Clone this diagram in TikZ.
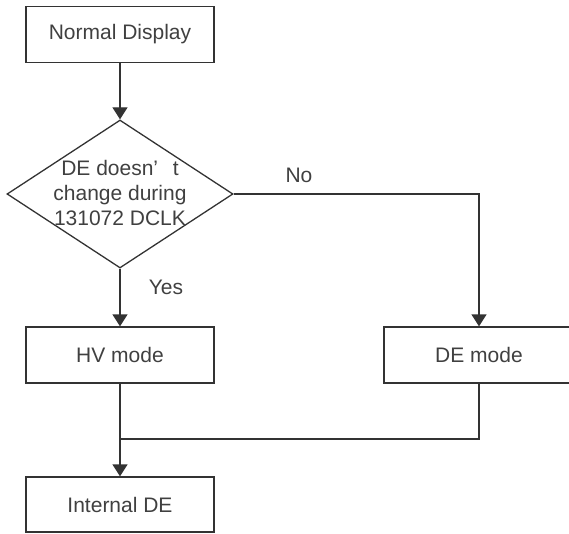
\documentclass[tikz,border=0pt]{standalone}
\usepackage{fontspec}
\setmainfont{Liberation Sans}
\usetikzlibrary{arrows.meta,shapes.geometric}

\begin{document}
\begin{tikzpicture}[x=1pt,y=1pt]
            \tikzstyle{every node}+=[font=\fontsize{21}{25}\selectfont, text=black!75]
            \tikzstyle{box}=[draw=black!80, line width=1.3pt, rectangle, minimum height=56pt, inner sep=0pt]
            \tikzstyle{line}=[draw=black!80, line width=1.3pt]
            \tikzstyle{arrow}=[line, -{Triangle[width=15pt,length=12pt]}]
            \useasboundingbox (0,0) rectangle (569,-534);
            \node [box, minimum width=188pt] (normal) at (120,-34.5) {Normal Display};
            \node [diamond, draw=black!80, line width=1.3pt, minimum width=226pt, minimum height=148pt, inner sep=0pt] (check) at (120,-194) {};
            \node [align=center] (checktext) at (120,-193) {DE doesn’\hspace{0.7em}t\\change during\\131072 DCLK};
            \node [box, minimum width=188pt] (hv) at (120,-355) {HV mode};
            \node [box, minimum width=190pt] (de) at (479,-355) {DE mode};
            \node [box, minimum width=188pt, minimum height=55pt] (internal) at (120,-504.5) {Internal DE};
            \coordinate (join) at (120,-439);
            \draw [arrow] (normal.south) -- (check.north);
            \draw [arrow] (check.east) -| (de.north);
            \draw (299,-175) node {No};
            \draw [arrow] (check.south) -- (hv.north);
            \draw (166,-287) node {Yes};
            \draw [arrow] (hv.south) -- (internal.north);
            \draw [line] (de.south) |- (join);
\end{tikzpicture}
\end{document}
